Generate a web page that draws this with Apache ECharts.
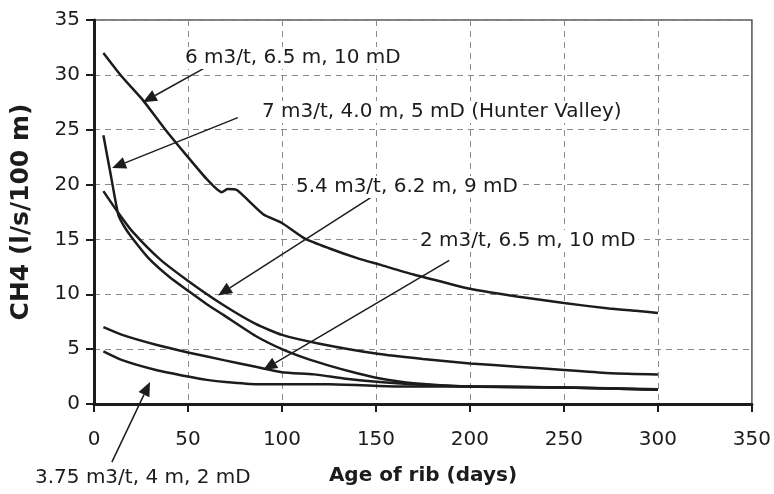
<!DOCTYPE html>
<html>
<head>
<meta charset="utf-8">
<script src="https://cdn.jsdelivr.net/npm/echarts@6/dist/echarts.min.js"></script>
<style>
  html, body { margin: 0; padding: 0; background: #fff; }
  #chart { width: 774px; height: 494px; }
</style>
</head>
<body>
<div id="chart"></div>
<script>
// 读数：天数 / CH4 (l/s/100 m)
const daysA = [5, 15, 26, 38, 50, 60, 68, 71, 76, 90, 100, 112, 125, 140, 152, 170, 186, 200, 225, 250, 274, 288, 300];
const ch4A = [32.0, 29.8, 27.7, 25.0, 22.5, 20.5, 19.3, 19.6, 19.5, 17.3, 16.5, 15.1, 14.2, 13.3, 12.7, 11.8, 11.1, 10.5, 9.8, 9.2, 8.7, 8.5, 8.3];

const daysB = [5, 9, 13, 16, 20, 29, 40, 51, 60, 69, 86, 100, 112, 125, 140, 150, 170, 200, 250, 300];
const ch4B = [24.5, 20.8, 17.2, 16.2, 15.2, 13.3, 11.6, 10.2, 9.1, 8.1, 6.2, 5.0, 4.2, 3.5, 2.8, 2.4, 1.9, 1.6, 1.5, 1.3];

const daysC = [5, 13, 20, 35, 51, 69, 86, 100, 120, 150, 175, 200, 225, 250, 275, 300];
const ch4C = [19.4, 17.4, 15.8, 13.2, 11.1, 9.0, 7.3, 6.3, 5.5, 4.6, 4.1, 3.7, 3.4, 3.1, 2.8, 2.7];

const daysD = [5, 15, 33, 50, 69, 86, 100, 117, 134, 152, 170, 200, 250, 300];
const ch4D = [7.0, 6.3, 5.4, 4.7, 4.0, 3.4, 2.9, 2.7, 2.3, 2.0, 1.8, 1.6, 1.5, 1.35];

const daysE = [5, 15, 33, 50, 60, 70, 87, 104, 125, 160, 200, 250, 300];
const ch4E = [4.8, 4.0, 3.1, 2.5, 2.2, 2.0, 1.8, 1.8, 1.8, 1.6, 1.6, 1.5, 1.3];

const xTicks = [0, 350, 50];
const yTicks = [0, 35, 5];

const curveNames = [
  "6 m3/t, 6.5 m, 10 mD",
  "7 m3/t, 4.0 m, 5 mD (Hunter Valley)",
  "5.4 m3/t, 6.2 m, 9 mD",
  "2 m3/t, 6.5 m, 10 mD",
  "3.75 m3/t, 4 m, 2 mD",
];

const FONT = '"DejaVu Sans", "Liberation Sans", sans-serif';
const INK = "#1c1c1c";

const chart = echarts.init(document.getElementById("chart"));

const zip = (xs, ys) => xs.map((x, i) => [x, ys[i]]);
const curves = [zip(daysA, ch4A), zip(daysB, ch4B), zip(daysC, ch4C), zip(daysD, ch4D), zip(daysE, ch4E)];

const option = {
  animation: false,
  backgroundColor: "#fff",
  grid: {
    left: 94,
    right: 22,
    top: 20,
    bottom: 90,
    show: true,
    borderColor: "#555",
    borderWidth: 1.5,
  },
  xAxis: {
    type: "value",
    min: xTicks[0],
    max: xTicks[1],
    interval: xTicks[2],
    name: "Age of rib (days)",
    nameLocation: "middle",
    nameGap: 62,
    nameTextStyle: { fontFamily: FONT, fontSize: 20, fontWeight: "bold", color: INK },
    axisLine: { lineStyle: { color: INK, width: 3 } },
    axisTick: { show: true, length: 8, lineStyle: { color: INK, width: 2 } },
    axisLabel: { fontFamily: FONT, fontSize: 20, color: INK, margin: 26 },
    splitLine: { lineStyle: { color: "#8a8a8a", width: 1, type: [6, 5] } },
  },
  yAxis: {
    type: "value",
    min: yTicks[0],
    max: yTicks[1],
    interval: yTicks[2],
    name: "CH4 (l/s/100 m)",
    nameLocation: "middle",
    nameGap: 60,
    nameTextStyle: { fontFamily: FONT, fontSize: 25, fontWeight: "bold", color: INK },
    axisLine: { show: true, lineStyle: { color: INK, width: 3 } },
    axisTick: { show: true, length: 8, lineStyle: { color: INK, width: 2 } },
    axisLabel: { fontFamily: FONT, fontSize: 20, color: INK, margin: 14 },
    splitLine: { lineStyle: { color: "#8a8a8a", width: 1, type: [6, 5] } },
  },
  series: curves.map((data, i) => ({
    name: curveNames[i],
    type: "line",
    data: data,
    showSymbol: false,
    smooth: 0.2,
    lineStyle: { color: INK, width: 2.5 },
    z: 3,
  })),
};

chart.setOption(option);

// 箭头（数据坐标：起点 -> 箭头尖）
const arrows = [
  { from: [60.6, 30.8], to: [26, 27.5] },
  { from: [76.5, 26.1], to: [9.6, 21.5] },
  { from: [148, 18.9], to: [66, 9.9] },
  { from: [189, 13.1], to: [90, 3.1] },
  { from: [9.5, -5.3], to: [29.8, 2.0] },
];

// 标注文字（像素：左边缘, 垂直中心）
const labels = [
  { text: curveNames[0], x: 182, y: 58 },
  { text: curveNames[1], x: 259, y: 112 },
  { text: curveNames[2], x: 293, y: 187 },
  { text: curveNames[3], x: 417, y: 241 },
  { text: curveNames[4], x: 32, y: 478 },
];

const graphics = [];
arrows.forEach((a) => {
  const p0 = chart.convertToPixel({ gridIndex: 0 }, a.from);
  const p1 = chart.convertToPixel({ gridIndex: 0 }, a.to);
  const dx = p1[0] - p0[0];
  const dy = p1[1] - p0[1];
  const len = Math.hypot(dx, dy);
  const ux = dx / len;
  const uy = dy / len;
  const headLen = 14;
  const headW = 6;
  const bx = p1[0] - ux * headLen;
  const by = p1[1] - uy * headLen;
  graphics.push({
    type: "line",
    z: 10,
    shape: { x1: p0[0], y1: p0[1], x2: bx, y2: by },
    style: { stroke: INK, lineWidth: 1.5 },
  });
  graphics.push({
    type: "polygon",
    z: 10,
    shape: {
      points: [
        [p1[0], p1[1]],
        [bx - uy * headW, by + ux * headW],
        [bx + uy * headW, by - ux * headW],
      ],
    },
    style: { fill: INK },
  });
});
labels.forEach((l) => {
  graphics.push({
    type: "text",
    z: 11,
    x: l.x,
    y: l.y,
    style: {
      text: l.text,
      font: "20px " + FONT,
      fill: INK,
      verticalAlign: "middle",
      backgroundColor: "#fff",
      padding: [1, 3],
    },
  });
});

chart.setOption({ graphic: graphics });

window.addEventListener("resize", function () {
  chart.resize();
});
</script>
</body>
</html>
